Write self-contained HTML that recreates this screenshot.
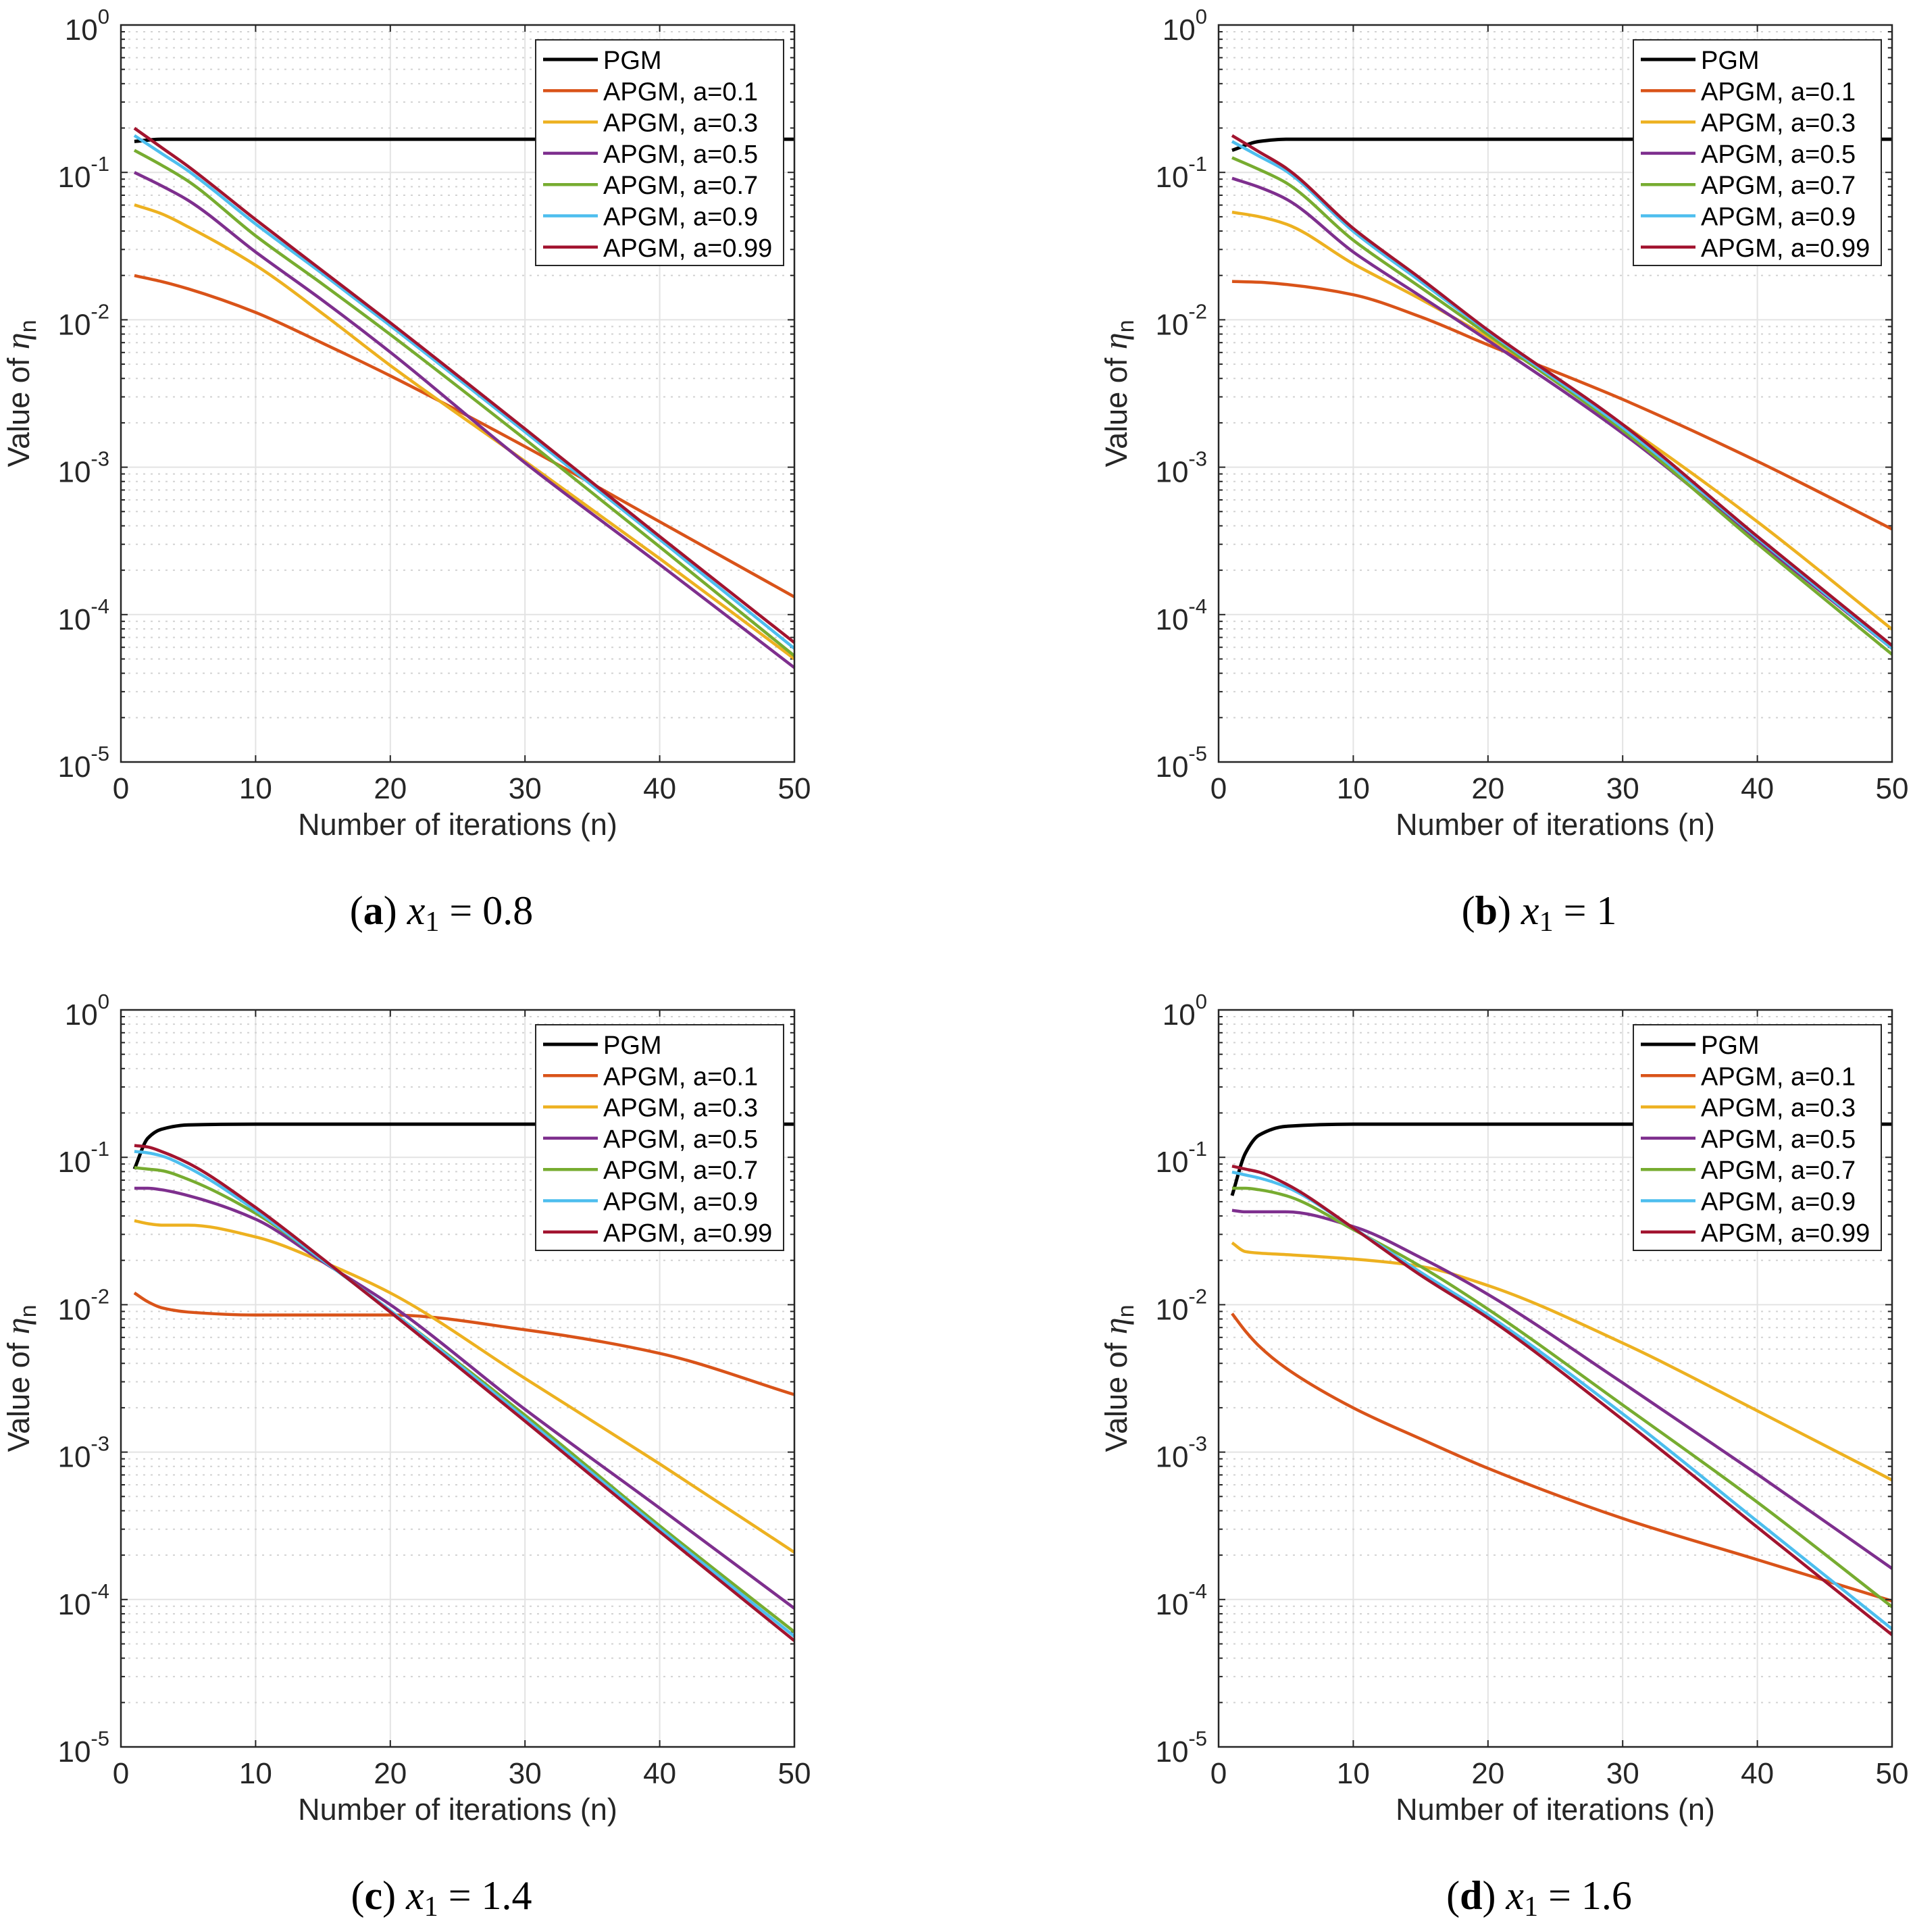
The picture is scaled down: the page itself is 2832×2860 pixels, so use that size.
<!DOCTYPE html>
<html><head><meta charset="utf-8"><style>
html,body{margin:0;padding:0;background:#fff;}
svg{display:block;}
</style></head><body>
<svg id="fig" xmlns="http://www.w3.org/2000/svg" width="2832" height="2860" viewBox="0 0 2832 2860"></svg>
<script>
// ---- data (log10 of eta_n) ----
const seriesNames = ["PGM","APGM, a=0.1","APGM, a=0.3","APGM, a=0.5","APGM, a=0.7","APGM, a=0.9","APGM, a=0.99"];
const seriesColors = ["#000000","#D95319","#EDB120","#7E2F8E","#77AC30","#4DBEEE","#A2142F"];
const xTicks = [0,10,20,30,40,50];
const yTickExps = [0,-1,-2,-3,-4,-5];

const nAB = [1,3,5,10,15,20,30,40,50];
const nCD = [1,2,3,5,10,15,20,30,40,50];

const aPGM  = [-0.79,-0.775,-0.775,-0.775,-0.775,-0.775,-0.775,-0.775,-0.775];
const aA01  = [-1.70,-1.74,-1.79,-1.95,-2.16,-2.38,-2.86,-3.37,-3.88];
const aA03  = [-1.22,-1.28,-1.37,-1.63,-1.96,-2.31,-2.96,-3.62,-4.30];
const aA05  = [-1.00,-1.09,-1.19,-1.54,-1.87,-2.22,-2.97,-3.66,-4.36];
const aA07  = [-0.85,-0.95,-1.06,-1.43,-1.76,-2.10,-2.81,-3.54,-4.28];
const aA09  = [-0.75,-0.87,-0.99,-1.35,-1.69,-2.04,-2.76,-3.49,-4.23];
const aA099 = [-0.70,-0.83,-0.96,-1.32,-1.67,-2.02,-2.74,-3.47,-4.19];

const bPGM  = [-0.85,-0.79,-0.775,-0.775,-0.775,-0.775,-0.775,-0.775,-0.775];
const bA01  = [-1.74,-1.745,-1.76,-1.83,-1.98,-2.17,-2.54,-2.96,-3.42];
const bA03  = [-1.27,-1.30,-1.35,-1.62,-1.86,-2.12,-2.71,-3.37,-4.10];
const bA05  = [-1.04,-1.10,-1.18,-1.54,-1.84,-2.14,-2.77,-3.50,-4.23];
const bA07  = [-0.90,-0.98,-1.07,-1.46,-1.78,-2.10,-2.75,-3.52,-4.27];
const bA09  = [-0.79,-0.89,-0.99,-1.40,-1.74,-2.08,-2.73,-3.48,-4.23];
const bA099 = [-0.75,-0.86,-0.97,-1.38,-1.72,-2.07,-2.71,-3.47,-4.21];

const cPGM  = [-1.08,-0.87,-0.81,-0.78,-0.775,-0.775,-0.775,-0.775,-0.775,-0.775];
const cA01  = [-1.92,-1.98,-2.02,-2.05,-2.07,-2.07,-2.07,-2.17,-2.33,-2.61];
const cA03  = [-1.43,-1.45,-1.46,-1.46,-1.54,-1.71,-1.92,-2.50,-3.08,-3.68];
const cA05  = [-1.21,-1.21,-1.22,-1.26,-1.42,-1.71,-2.00,-2.71,-3.38,-4.06];
const cA07  = [-1.07,-1.08,-1.09,-1.15,-1.38,-1.70,-2.04,-2.75,-3.50,-4.22];
const cA09  = [-0.96,-0.97,-0.99,-1.07,-1.36,-1.70,-2.04,-2.77,-3.52,-4.25];
const cA099 = [-0.92,-0.93,-0.96,-1.04,-1.34,-1.69,-2.05,-2.79,-3.54,-4.28];

const dPGM  = [-1.26,-0.97,-0.85,-0.79,-0.775,-0.775,-0.775,-0.775,-0.775,-0.775];
const dA01  = [-2.06,-2.18,-2.28,-2.43,-2.70,-2.91,-3.11,-3.45,-3.73,-4.01];
const dA03  = [-1.58,-1.64,-1.65,-1.66,-1.69,-1.74,-1.87,-2.26,-2.72,-3.19];
const dA05  = [-1.36,-1.37,-1.37,-1.37,-1.47,-1.68,-1.93,-2.53,-3.15,-3.79];
const dA07  = [-1.21,-1.21,-1.22,-1.26,-1.49,-1.74,-2.03,-2.68,-3.34,-4.05];
const dA09  = [-1.10,-1.12,-1.14,-1.20,-1.48,-1.78,-2.07,-2.74,-3.47,-4.20];
const dA099 = [-1.06,-1.08,-1.10,-1.18,-1.48,-1.80,-2.09,-2.78,-3.51,-4.24];

const panels = [
  {id:"a", ox:0, oy:0, n:nAB, s:[aPGM,aA01,aA03,aA05,aA07,aA09,aA099], cap:"0.8"},
  {id:"b", ox:1625, oy:0, n:nAB, s:[bPGM,bA01,bA03,bA05,bA07,bA09,bA099], cap:"1"},
  {id:"c", ox:0, oy:1458, n:nCD, s:[cPGM,cA01,cA03,cA05,cA07,cA09,cA099], cap:"1.4"},
  {id:"d", ox:1625, oy:1458, n:nCD, s:[dPGM,dA01,dA03,dA05,dA07,dA09,dA099], cap:"1.6"}
];

const NS="http://www.w3.org/2000/svg";
const svg=document.getElementById('fig');
function mk(tag, attrs, parent){const e=document.createElementNS(NS,tag);for(const k in attrs)e.setAttribute(k,attrs[k]);(parent||svg).appendChild(e);return e;}
const L0=179,T0=37,W=997,H=1091;
const FONT='"Liberation Sans", sans-serif';
const SERIF='"Liberation Serif", serif';

// monotone cubic (Fritsch-Carlson) path through pixel points sorted by x
function monoPath(pts){
  const n=pts.length, dx=[], m=[], t=new Array(n);
  for(let i=0;i<n-1;i++){dx.push(pts[i+1][0]-pts[i][0]); m.push((pts[i+1][1]-pts[i][1])/dx[i]);}
  t[0]=m[0]; t[n-1]=m[n-2];
  for(let i=1;i<n-1;i++){
    if(m[i-1]*m[i]<=0) t[i]=0;
    else {const w1=2*dx[i]+dx[i-1], w2=dx[i]+2*dx[i-1]; t[i]=(w1+w2)/(w1/m[i-1]+w2/m[i]);}
  }
  let d='M'+pts[0][0].toFixed(2)+','+pts[0][1].toFixed(2);
  for(let i=0;i<n-1;i++){
    const h=dx[i]/3;
    d+=' C'+(pts[i][0]+h).toFixed(2)+','+(pts[i][1]+t[i]*h).toFixed(2)+' '+(pts[i+1][0]-h).toFixed(2)+','+(pts[i+1][1]-t[i+1]*h).toFixed(2)+' '+pts[i+1][0].toFixed(2)+','+pts[i+1][1].toFixed(2);
  }
  return d;
}

panels.forEach(p=>{
  const L=L0+p.ox,T=T0+p.oy,R=L+W,B=T+H;
  const xs=v=>L+v/50*W;
  const ys=e=>T+(0-e)/5*H;
  const g=mk('g',{});
  
  
  mk('rect',{x:L,y:T,width:W,height:H,fill:'#fff'},g);
  const grid=mk('g',{},g);
  
  
  xTicks.forEach(t=>{ if(t>0&&t<50) mk('line',{x1:xs(t),x2:xs(t),y1:T,y2:B,stroke:'#e3e3e3','stroke-width':2},grid);});
  yTickExps.forEach(e=>{ if(e<0&&e>-5) mk('line',{x1:L,x2:R,y1:ys(e),y2:ys(e),stroke:'#e3e3e3','stroke-width':2},grid);
    if(e>-5) for(let k=2;k<=9;k++){const yy=ys(e-1+Math.log10(k));
      mk('line',{x1:L,x2:R,y1:yy,y2:yy,stroke:'#d2d2d2','stroke-width':2,'stroke-dasharray':'3 8'},grid);
      mk('line',{x1:L,x2:L+6,y1:yy,y2:yy,stroke:'#262626','stroke-width':2},grid);
      mk('line',{x1:R-6,x2:R,y1:yy,y2:yy,stroke:'#262626','stroke-width':2},grid);}
  });
  p.s.forEach((vals,i)=>{
    const pts=p.n.map((n,j)=>[xs(n),ys(vals[j])]);
    const path=mk('path',{d:monoPath(pts),fill:'none',stroke:seriesColors[i],'stroke-width':i==0?5:4.5,'stroke-linejoin':'round'},g);
    
    
  });
  mk('rect',{x:L,y:T,width:W,height:H,fill:'none',stroke:'#262626','stroke-width':2.5},g);
  xTicks.forEach(t=>{
    mk('line',{x1:xs(t),x2:xs(t),y1:B,y2:B-10,stroke:'#262626','stroke-width':2},g);
    mk('line',{x1:xs(t),x2:xs(t),y1:T,y2:T+10,stroke:'#262626','stroke-width':2},g);
    const tx=mk('text',{x:xs(t),y:B+54,'text-anchor':'middle','font-family':FONT,'font-size':44,fill:'#262626'},g);
    tx.textContent=t;
    
    
  });
  yTickExps.forEach(e=>{
    mk('line',{x1:L,x2:L+10,y1:ys(e),y2:ys(e),stroke:'#262626','stroke-width':2},g);
    mk('line',{x1:R-10,x2:R,y1:ys(e),y2:ys(e),stroke:'#262626','stroke-width':2},g);
    const tx=mk('text',{x:L-17,y:ys(e)+22,'text-anchor':'end','font-family':FONT,'font-size':44,fill:'#262626'},g);
    
    
    const t1=mk('tspan',{},tx); t1.textContent='10';
    const t2=mk('tspan',{dy:-24,'font-size':31},tx); t2.textContent=String(e);
  });
  const xl=mk('text',{x:L+W/2,y:B+108,'text-anchor':'middle','font-family':FONT,'font-size':45,fill:'#262626'},g);
  xl.textContent='Number of iterations (n)';
  
  
  const yl=mk('text',{transform:'translate('+(L-136)+','+(T+H/2)+') rotate(-90)','text-anchor':'middle','font-family':FONT,'font-size':45,fill:'#262626'},g);
  
  
  const y1=mk('tspan',{},yl); y1.textContent='Value of ';
  const y2=mk('tspan',{'font-family':SERIF,'font-style':'italic','font-size':50},yl); y2.textContent='η';
  const y3=mk('tspan',{dy:10,'font-size':34},yl); y3.textContent='n';
  const lg=mk('g',{},g);
  
  
  const lx=L+614, ly=T+22;
  mk('rect',{x:lx,y:ly,width:367,height:334,fill:'#fff',stroke:'#262626','stroke-width':2},lg);
  seriesNames.forEach((nm,i)=>{
    const yy=ly+29+i*46.3;
    const ent=mk('g',{},lg);
    
    
    mk('line',{x1:lx+11,x2:lx+92,y1:yy,y2:yy,stroke:seriesColors[i],'stroke-width':i==0?5:4.5},ent);
    const t=mk('text',{x:lx+100,y:yy+14,'font-family':FONT,'font-size':38,fill:'#000'},ent);
    t.textContent=nm;
  });
  const cap=mk('text',{x:L+W/2-24,y:B+240,'text-anchor':'middle','font-family':SERIF,'font-size':60,fill:'#000'},g);
  
  
  const c1=mk('tspan',{},cap); c1.textContent='(';
  const c2=mk('tspan',{'font-weight':'bold'},cap); c2.textContent=p.id;
  const c3=mk('tspan',{},cap); c3.textContent=') ';
  const c4=mk('tspan',{'font-style':'italic'},cap); c4.textContent='x';
  const c5=mk('tspan',{dy:10,'font-size':42},cap); c5.textContent='1';
  const c6=mk('tspan',{dy:-10},cap); c6.textContent=' = '+p.cap;
});
</script>
</body></html>
